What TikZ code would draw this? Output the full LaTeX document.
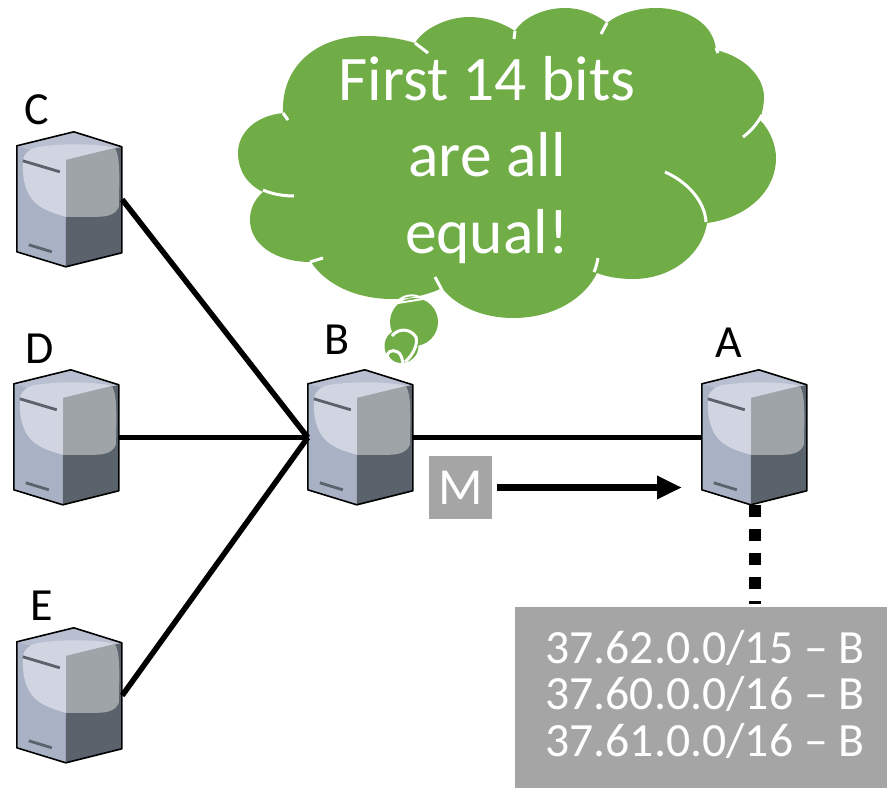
\documentclass[tikz,border=0pt]{standalone}
\usepackage{fontspec}
\setmainfont{Carlito}
\usetikzlibrary{arrows.meta}
\definecolor{cloudgreen}{HTML}{70AD47}
\definecolor{boxgray}{HTML}{A5A5A5}
\definecolor{srvbody}{HTML}{A9B2C5}
\definecolor{srvtop}{HTML}{B8BFD0}
\definecolor{srvlight}{HTML}{D1D5E1}
\definecolor{srvmid}{HTML}{9FA4A8}
\definecolor{srvdark}{HTML}{5A626B}
\tikzset{
  serverbox/.style={minimum width=105pt,minimum height=135pt,inner sep=0pt},
  namelabel/.style={font=\fontsize{46}{50}\selectfont,inner sep=0pt},
  link/.style={line width=5.5pt},
  whitearc/.style={draw=white,line width=3pt},
  pics/serverpic/.style={code={
    \fill[srvbody] (0,14) -- (57,0) -- (105,15) -- (105,121) -- (49,135) -- (0,120) -- cycle;
    \fill[srvdark] (49,28) -- (105,15) -- (105,121) -- (49,135) -- cycle;
    \fill[srvtop] (0,14) -- (57,0) -- (105,15) -- (49,28) -- cycle;
    \fill[srvmid] (49,28) -- (98,16) .. controls (103,24) and (103,40) .. (102,75)
      .. controls (99,83) and (90,85) .. (80,85) -- (49,85) -- cycle;
    \fill[srvlight] (6,30) .. controls (6,22) and (14,16) .. (22,15)
      .. controls (50,11) and (80,12) .. (98,16) -- (49,28) -- (49,85)
      .. controls (25,78) and (5,72) .. (6,30) -- cycle;
    \draw[srvdark,line width=2.8pt] (6,29) -- (43,40);
    \draw[srvdark,line width=2.8pt] (12,113) -- (35,120);
    \draw[black,line width=1.6pt,line join=round] (0,14) -- (57,0) -- (105,15) -- (105,121) -- (49,135) -- (0,120) -- cycle;
  }}
}
\begin{document}
\begin{tikzpicture}[x=1pt,y=-1pt]
  \useasboundingbox (0,0) rectangle (887,788);
  % 服务器
  \node[serverbox] (C) at (69.5,199.5) {};
  \node[serverbox] (D) at (66.5,437.5) {};
  \node[serverbox] (E) at (69.5,695.5) {};
  \node[serverbox] (B) at (360.5,437.5) {};
  \node[serverbox] (A) at (754.5,437.5) {};
  \pic at (C.north west) {serverpic};
  \pic at (D.north west) {serverpic};
  \pic at (E.north west) {serverpic};
  \pic at (B.north west) {serverpic};
  \pic at (A.north west) {serverpic};
  % 名称
  \node[namelabel] (labelC) at (37,110) {C};
  \node[namelabel] (labelD) at (40,349) {D};
  \node[namelabel] (labelE) at (42,606) {E};
  \node[namelabel] (labelB) at (337,340) {B};
  \node[namelabel] (labelA) at (729,343) {A};
  % 连线
  \draw[link] (C.east) -- (B.west);
  \draw[link] (D.east) -- (B.west);
  \draw[link] (E.east) -- (B.west);
  \draw[link] (B.east) -- (A.west);
  % 云
  \fill[cloudgreen] (283,113) .. controls (281,65) and (318,36) .. (366,36)
    .. controls (385,36) and (402,39) .. (415,43)
    .. controls (424,28) and (448,17) .. (469,17)
    .. controls (485,17) and (501,22) .. (515,31)
    .. controls (523,18) and (543,8) .. (565,8)
    .. controls (581,8) and (596,14) .. (607,23)
    .. controls (618,14) and (636,8) .. (656,8)
    .. controls (689,8) and (714,25) .. (716,50)
    .. controls (746,57) and (764,78) .. (764,97)
    .. controls (764,105) and (762,113) .. (760,120)
    .. controls (770,130) and (776,145) .. (776,158)
    .. controls (776,192) and (746,218) .. (707,223)
    .. controls (702,255) and (671,279) .. (633,279)
    .. controls (620,279) and (607,277) .. (597,273)
    .. controls (585,298) and (554,318) .. (513,318)
    .. controls (481,318) and (455,305) .. (442,288)
    .. controls (428,295) and (409,299) .. (392,299)
    .. controls (357,299) and (326,285) .. (311,262)
    .. controls (275,262) and (250,244) .. (250,220)
    .. controls (250,209) and (254,200) .. (263,192)
    .. controls (246,184) and (238,169) .. (238,153)
    .. controls (238,133) and (255,116) .. (283,113) -- cycle;
  \fill[cloudgreen] (414,322) circle[radius=24];
  \fill[cloudgreen] (401.5,346) circle[radius=17];
  % 云内白线
  \draw[whitearc] (415,43) -- (428,53);
  \draw[whitearc] (515,31) -- (514,39);
  \draw[whitearc] (607,23) -- (601,34);
  \draw[whitearc] (716,48) -- (718,53);
  \draw[whitearc] (762,115) .. controls (757,124) and (751,131) .. (743,137);
  \draw[whitearc] (665,172) .. controls (688,182) and (705,202) .. (706,222);
  \draw[whitearc] (598,258) .. controls (597,263) and (596,268) .. (594,272);
  \draw[whitearc] (435,277) -- (442,290);
  \draw[whitearc] (310,262) -- (323,258);
  \draw[whitearc] (263,190) .. controls (272,194) and (283,196) .. (294,196);
  \draw[whitearc] (283,113) -- (288,120);
  \draw[whitearc,line width=2pt] (397,303) .. controls (400,296) and (414,292) .. (423,299);
  \draw[whitearc,line width=2pt] (398,303) -- (423,299);
  \draw[whitearc] (392,336) .. controls (398,328) and (410,328) .. (416,337)
    .. controls (418,345) and (413,355) .. (405,362);
  \draw[whitearc] (394,363) .. controls (391,362) and (388,359) .. (387,355)
    .. controls (389,349) and (398,349) .. (401,356) .. controls (403,360) and (402,362) .. (403,363);
  \node[text=white,align=center,inner sep=0pt,font=\fontsize{63.5}{76.5}\selectfont] (thought) at (487,160) {First 14 bits\\are all\\equal!};
  % 消息
  \node[fill=boxgray,text=white,minimum width=63pt,minimum height=63pt,inner sep=0pt,font=\fontsize{52}{56}\selectfont] (M) at (460.5,487.5) {M};
  \coordinate (arrowend) at (682,487.5);
  \draw[line width=7.5pt,-{Triangle[length=25pt,width=22pt]}] ([xshift=5pt]M.east) -- (arrowend);
  % 路由表
  \node[fill=boxgray,minimum width=372pt,minimum height=181pt,inner sep=0pt] (table) at (701,697.5) {};
  \node[text=white,align=center,inner sep=0pt,font=\fontsize{47.7}{46.5}\selectfont] (tabletext) at (705,694) {37.62.0.0/15 -- B\\37.60.0.0/16 -- B\\37.61.0.0/16 -- B};
  \coordinate (dotend) at (A.south |- 0,604);
  \draw[line width=12pt,dash pattern=on 12pt off 12pt] (A.south) -- (dotend);
\end{tikzpicture}
\end{document}
